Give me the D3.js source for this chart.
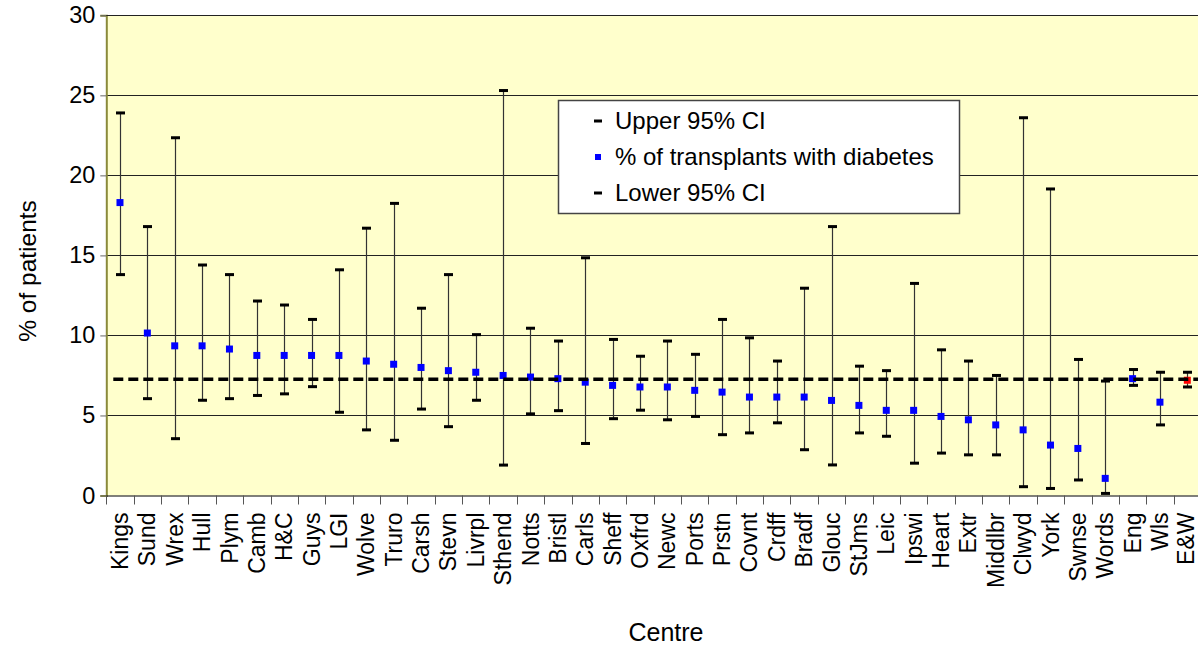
<!DOCTYPE html>
<html>
<head>
<meta charset="utf-8">
<script src="https://cdn.jsdelivr.net/npm/d3@7/dist/d3.min.js"></script>
<style>
html,body{margin:0;padding:0;background:#fff;}
svg{display:block;}
text{font-family:"Liberation Sans",Arial,sans-serif;fill:#000;}
</style>
</head>
<body>
<svg id="chart" width="1198" height="646"></svg>
<script>
const centres = ["Kings","Sund","Wrex","Hull","Plym","Camb","H&C","Guys","LGI","Wolve","Truro","Carsh","Stevn","Livrpl","Sthend","Notts","Bristl","Carls","Sheff","Oxfrd","Newc","Ports","Prstn","Covnt","Crdff","Bradf","Glouc","StJms","Leic","Ipswi","Heart","Extr","Middlbr","Clwyd","York","Swnse","Words","Eng","Wls","E&W"];
const pctDiabetes = [18.3,10.15,9.35,9.35,9.15,8.75,8.75,8.75,8.75,8.4,8.2,8.0,7.8,7.7,7.5,7.4,7.3,7.08,6.88,6.78,6.78,6.57,6.46,6.15,6.15,6.15,5.94,5.63,5.32,5.32,4.94,4.73,4.41,4.1,3.15,2.94,1.07,7.3,5.83,7.2];
const upperCI = [23.9,16.8,22.35,14.4,13.8,12.15,11.9,11.0,14.1,16.7,18.25,11.7,13.8,10.05,25.3,10.45,9.65,14.85,9.75,8.7,9.65,8.82,11.0,9.85,8.4,12.95,16.8,8.08,7.8,13.25,9.1,8.4,7.5,23.6,19.15,8.5,7.15,7.87,7.7,7.7];
const lowerCI = [13.8,6.05,3.55,5.95,6.05,6.25,6.35,6.8,5.2,4.1,3.45,5.4,4.3,5.95,1.9,5.1,5.3,3.25,4.8,5.33,4.73,4.94,3.8,3.91,4.54,2.86,1.91,3.91,3.7,2.02,2.65,2.54,2.54,0.55,0.44,0.97,0.13,6.88,4.41,6.78];
const overallMean = 7.27;
const yTicks = [0,5,10,15,20,25,30];
const legendLabels = ["Upper 95% CI","% of transplants with diabetes","Lower 95% CI"];

const svg = d3.select("#chart");
const L = 106.3, R = 1201, T = 15.3, B = 495.5;

const x = d3.scaleBand().domain(centres).range([L, R]).padding(0);
const y = d3.scaleLinear().domain([0,30]).range([B, T]);

// plot background
svg.append("rect").attr("x",L).attr("y",T).attr("width",R-L).attr("height",B-T).attr("fill","#FFFFCC");

// gridlines
svg.append("g").selectAll("line").data(yTicks.filter(d=>d>0)).join("line")
  .attr("x1",L).attr("x2",R)
  .attr("y1",d=>Math.round(y(d))+0.5).attr("y2",d=>Math.round(y(d))+0.5)
  .attr("stroke","#222").attr("stroke-width",1);

// y axis
const yAxis = d3.axisLeft(y).tickValues(yTicks).tickSize(6).tickPadding(5);
const gy = svg.append("g").attr("transform",`translate(${L},0)`).call(yAxis);
gy.select(".domain").attr("stroke","#8a8a3a").attr("stroke-width",2);
gy.selectAll(".tick line").attr("stroke","#666");
gy.selectAll(".tick text").attr("font-size","23.5px").attr("font-family","Liberation Sans, Arial, sans-serif").attr("fill","#000");

// x axis (ticks at category boundaries)
svg.append("line").attr("x1",L).attr("x2",R).attr("y1",B+0.5).attr("y2",B+0.5).attr("stroke","#000").attr("stroke-width",1);
svg.append("g").selectAll("line").data(centres).join("line")
  .attr("x1",d=>Math.round(x(d))+0.5).attr("x2",d=>Math.round(x(d))+0.5)
  .attr("y1",B).attr("y2",B+9).attr("stroke","#555");
svg.append("g").selectAll("text").data(centres).join("text")
  .attr("transform",d=>`translate(${Math.min(x(d)+x.bandwidth()/2, 1186)},${B+17}) rotate(-90)`)
  .attr("text-anchor","end").attr("dy","0.35em")
  .attr("font-size","23px").text(d=>d);

// error bars
const gE = svg.append("g");
centres.forEach((c,i)=>{
  const cx = Math.round(x(c)+x.bandwidth()/2)+0.5;
  gE.append("line").attr("x1",cx).attr("x2",cx).attr("y1",y(lowerCI[i])).attr("y2",y(upperCI[i]))
    .attr("stroke","#333").attr("stroke-width",1.2);
  [upperCI[i],lowerCI[i]].forEach(v=>{
    gE.append("rect").attr("x",cx-4.5).attr("y",y(v)-1.5).attr("width",9).attr("height",3).attr("fill","#000");
  });
});

// points
svg.append("g").selectAll("rect").data(centres).join("rect")
  .attr("x",d=>x(d)+x.bandwidth()/2-3.5)
  .attr("y",(d,i)=>y(pctDiabetes[i])-3.5)
  .attr("width",7).attr("height",7)
  .attr("fill",d=>d==="E&W"?"#FF0000":"#0000FF");

// overall dashed line
svg.append("line").attr("x1",L+7).attr("x2",R).attr("y1",y(overallMean)).attr("y2",y(overallMean))
  .attr("stroke","#000").attr("stroke-width",3.5).attr("stroke-dasharray","10,5");

// top border line
svg.append("line").attr("x1",L).attr("x2",R).attr("y1",Math.round(T)+0.5).attr("y2",Math.round(T)+0.5).attr("stroke","#222");

// legend
const lg = svg.append("g");
lg.append("rect").attr("x",558.5).attr("y",100.5).attr("width",401).attr("height",113)
  .attr("fill","#fff").attr("stroke","#444").attr("stroke-width",1.5);
const rowY = [121,157,193];
legendLabels.forEach((t,i)=>{
  if(i===1){
    lg.append("rect").attr("x",595).attr("y",rowY[i]-3).attr("width",6).attr("height",6).attr("fill","#0000FF");
  } else {
    lg.append("rect").attr("x",594).attr("y",rowY[i]-1.5).attr("width",8).attr("height",3).attr("fill","#000");
  }
  lg.append("text").attr("x",615).attr("y",rowY[i]).attr("dy","0.35em").attr("font-size","24px").text(t);
});

// axis titles
svg.append("text").attr("transform","translate(27,271) rotate(-90)").attr("text-anchor","middle")
  .attr("dy","0.35em").attr("font-size","24.5px").text("% of patients");
svg.append("text").attr("x",666).attr("y",632).attr("text-anchor","middle").attr("dy","0.35em")
  .attr("font-size","25px").text("Centre");
</script>
</body>
</html>
